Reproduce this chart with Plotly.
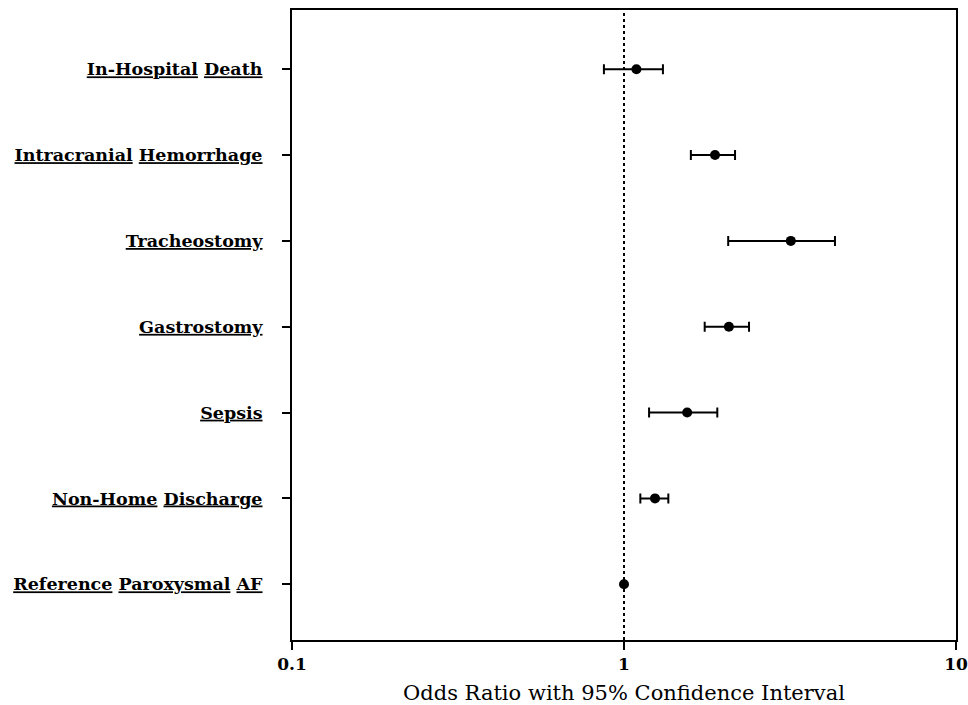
import plotly.graph_objects as go

outcomes = ["Reference Paroxysmal AF", "Non-Home Discharge", "Sepsis", "Gastrostomy",
            "Tracheostomy", "Intracranial Hemorrhage", "In-Hospital Death"]
odds_ratio = [1.00, 1.24, 1.55, 2.07, 3.18, 1.88, 1.09]
ci_low = [1.00, 1.12, 1.19, 1.75, 2.06, 1.59, 0.87]
ci_high = [1.00, 1.36, 1.91, 2.38, 4.32, 2.16, 1.31]

x_ticks = [0.1, 1, 10]
x_tick_labels = ["0.1", "1", "10"]

def fmt(label):
    return "<b>" + " ".join("<u>%s</u>" % w for w in label.split(" ")) + "</b>"

ypos = list(range(len(outcomes)))
err_plus = [h - o for h, o in zip(ci_high, odds_ratio)]
err_minus = [o - l for o, l in zip(odds_ratio, ci_low)]

fig = go.Figure()
fig.add_trace(go.Scatter(
    x=odds_ratio, y=ypos, mode="markers",
    marker=dict(color="black", size=10),
    error_x=dict(type="data", symmetric=False, array=err_plus, arrayminus=err_minus,
                 color="black", thickness=2, width=5),
    showlegend=False,
))
fig.add_vline(x=1, line=dict(color="black", width=2, dash="dot"), layer="below")

fig.update_layout(
    width=968, height=705,
    margin=dict(l=292, r=12, t=10, b=65),
    plot_bgcolor="white", paper_bgcolor="white",
    font=dict(family="DejaVu Serif", color="black"),
    xaxis=dict(type="log", range=[-1, 1], tickvals=x_ticks, ticktext=["<b>%s</b>" % t for t in x_tick_labels],
               showgrid=False, zeroline=False, showline=True, linecolor="black", linewidth=2,
               mirror=True, ticks="outside", ticklen=8, tickwidth=2, tickcolor="black",
               tickfont=dict(size=17), automargin=False,
               title=dict(text="Odds Ratio with 95% Confidence Interval", font=dict(size=21), standoff=14)),
    yaxis=dict(range=[-0.65, 6.69], tickvals=ypos, ticktext=[fmt(o) for o in outcomes],
               showgrid=False, zeroline=False, showline=True, linecolor="black", linewidth=2,
               mirror=True, ticks="outside", ticklen=8, tickwidth=2, tickcolor="black",
               tickfont=dict(size=17.5), ticklabelstandoff=16, automargin=False),
)
fig.write_html("out.html", config={"displayModeBar": False},
               post_script="document.body.style.margin='0';")
